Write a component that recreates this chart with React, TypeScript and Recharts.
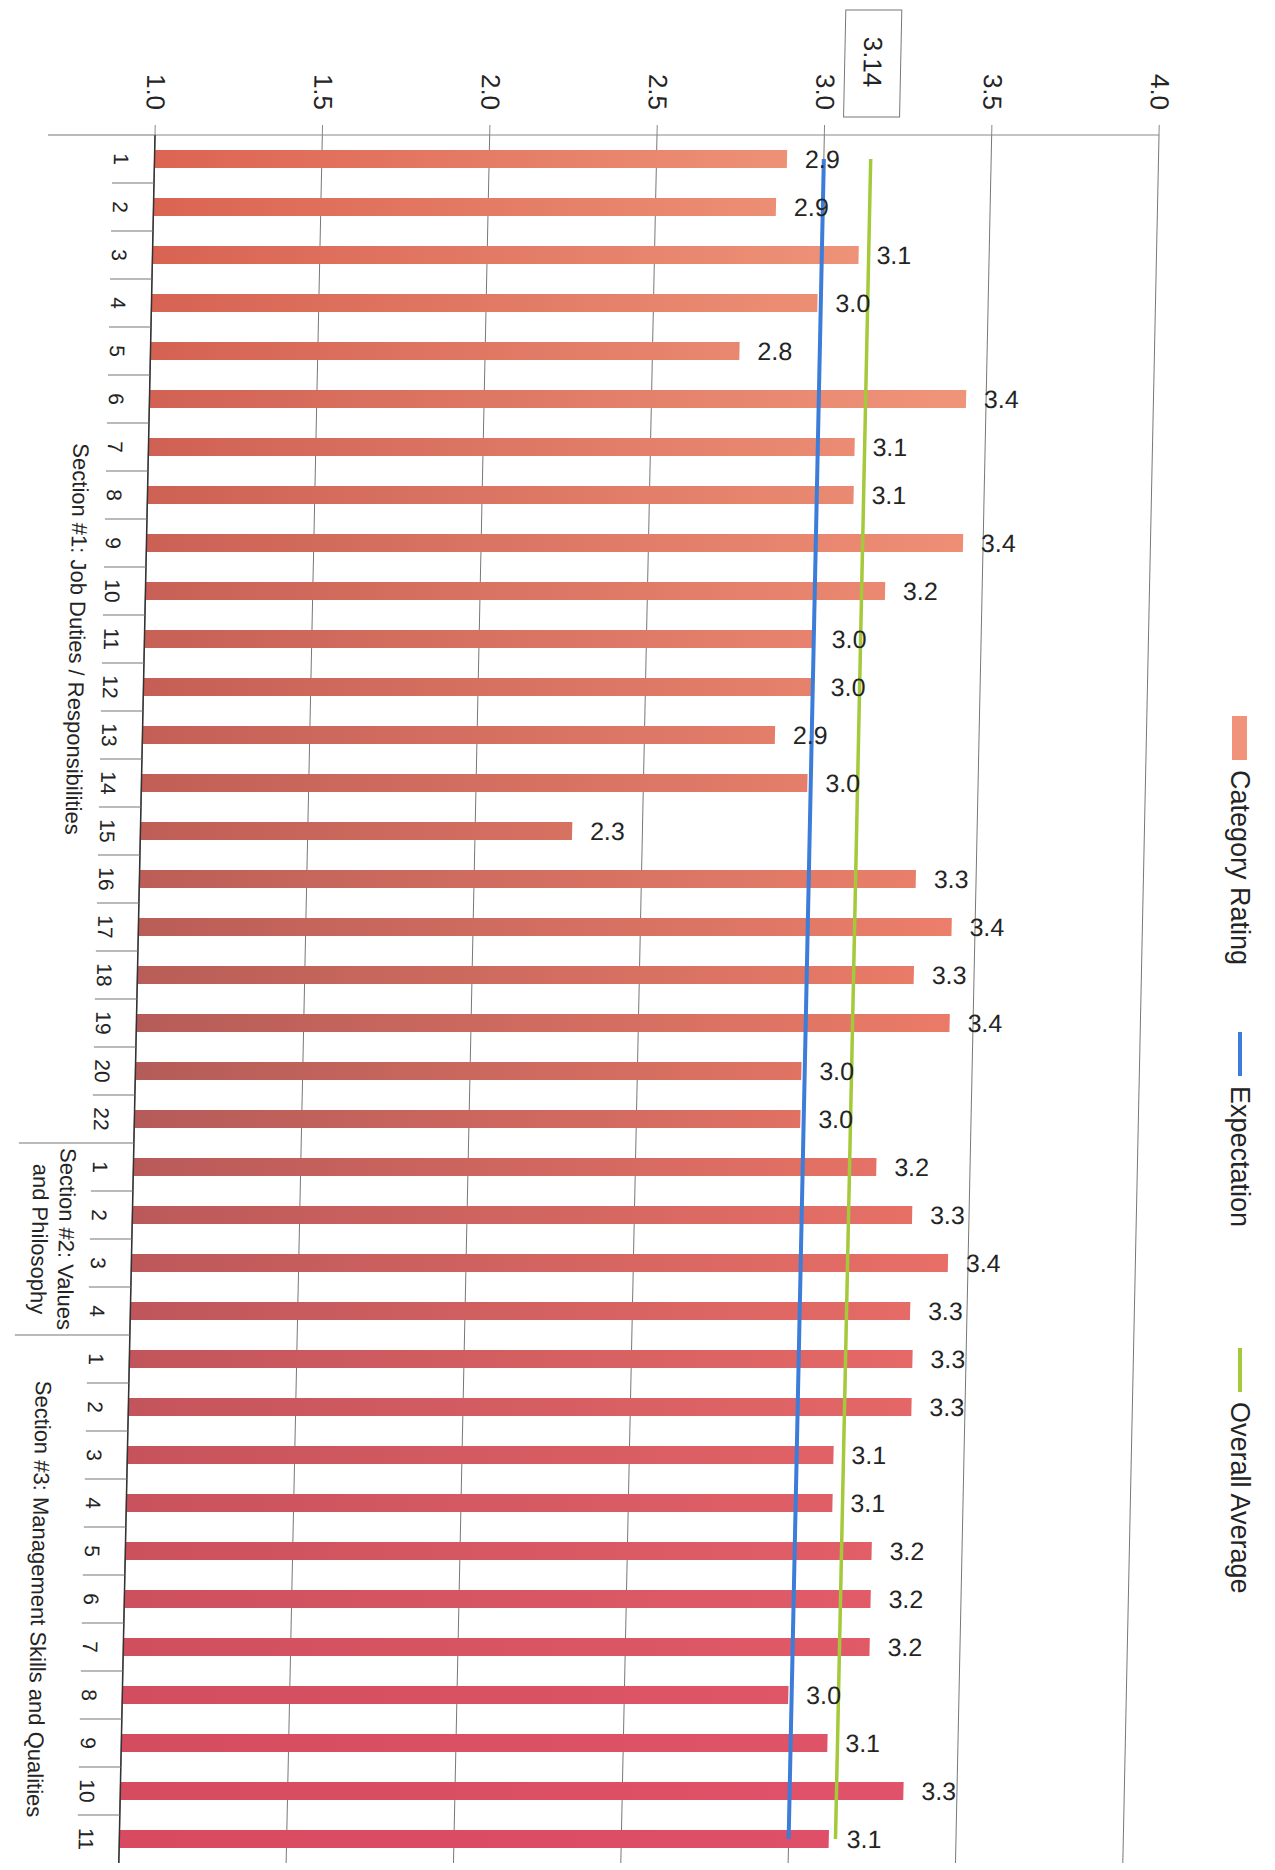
import { BarChart, Bar, Cell, XAxis, YAxis, CartesianGrid, ReferenceLine, LabelList, Legend } from "recharts";

// --- data ---
const section1Items = ["1", "2", "3", "4", "5", "6", "7", "8", "9", "10", "11", "12", "13", "14", "15", "16", "17", "18", "19", "20", "22"];
const section1Ratings = [2.89, 2.86, 3.11, 2.99, 2.76, 3.44, 3.11, 3.11, 3.44, 3.21, 3.0, 3.0, 2.89, 2.99, 2.29, 3.32, 3.43, 3.32, 3.43, 2.99, 2.99];

const section2Items = ["1", "2", "3", "4"];
const section2Ratings = [3.22, 3.33, 3.44, 3.33];

const section3Items = ["1", "2", "3", "4", "5", "6", "7", "8", "9", "10", "11"];
const section3Ratings = [3.34, 3.34, 3.11, 3.11, 3.23, 3.23, 3.23, 2.99, 3.11, 3.34, 3.12];

const sectionTitles = [
    ["Section #1: Job Duties / Responsibilities"],
    ["Section #2: Values", "and Philosophy"],
    ["Section #3: Management Skills and Qualities"],
];

const expectation = 3.0;
const overallAverage = 3.14;
const valueTicks = [1.0, 1.5, 2.0, 2.5, 3.0, 3.5, 4.0];
const legendNames = ["Category Rating", "Expectation", "Overall Average"];

// --- layout / style ---
const W = 1275;
const H = 1870;
const MARGIN = { top: 0, right: 116, bottom: 7, left: 0 };
const X_AXIS_H = 135;
const Y_AXIS_W = 155;
const SKEW_DEG = 1.2; // the scan is slightly sheared
const FONT = "'Liberation Sans', Arial, sans-serif";
const TEXT = "#242424";
const BAR_COLOR = "#f0937a";
const EXP_COLOR = "#3b7dd8";
const AVG_COLOR = "#a4c93a";
const sectionLabelX = [88, 78, 70];
const sectionLineStart = [48, 40, 40];

// scan tint of the bars: [row, left colour, right colour]
const barTint: [number, string, string][] = [
    [0, "#dc6452", "#f3a083"],
    [19, "#b45c58", "#ec7a66"],
    [35, "#d84a60", "#e0506a"],
];

const sections = [
    { items: section1Items, ratings: section1Ratings },
    { items: section2Items, ratings: section2Ratings },
    { items: section3Items, ratings: section3Ratings },
];

const rows = sections.flatMap((s, si) =>
    s.items.map((item, i) => ({
        id: `${si + 1}-${item}`,
        item,
        section: si,
        first: i === 0,
        count: s.items.length,
        rating: s.ratings[i],
    }))
);

const BAND = (H - X_AXIS_H - MARGIN.bottom) / rows.length;

const hex = (c: string) => [1, 3, 5].map((i) => parseInt(c.slice(i, i + 2), 16));
const mix = (a: string, b: string, t: number) => {
    const A = hex(a);
    const B = hex(b);
    return `rgb(${A.map((v, i) => Math.round(v + (B[i] - v) * t)).join(",")})`;
};
const tintAt = (i: number, side: 1 | 2) => {
    let k = 0;
    while (k < barTint.length - 2 && i > barTint[k + 1][0]) k++;
    const [r0] = barTint[k];
    const [r1] = barTint[k + 1];
    const t = Math.min(1, Math.max(0, (i - r0) / (r1 - r0)));
    return mix(barTint[k][side], barTint[k + 1][side], t);
};

const ValueTick = (props: any) => {
    const { x, y, payload } = props;
    const cy = y - 31;
    return (
        <text
            x={x}
            y={cy}
            transform={`rotate(90 ${x} ${cy})`}
            textAnchor="middle"
            dominantBaseline="central"
            fontSize={26}
            fill={TEXT}
        >
            {Number(payload.value).toFixed(1)}
        </text>
    );
};

const CategoryTick = (props: any) => {
    const { y, payload } = props;
    const row = rows.find((r) => r.id === payload.value);
    if (!row) return null;
    const top = y - BAND / 2;
    const numX = 122;
    const title = sectionTitles[row.section];
    const lx = sectionLabelX[row.section];
    const ly = top + (row.count * BAND) / 2;
    return (
        <g>
            <line
                x1={row.first ? sectionLineStart[row.section] : 113}
                x2={Y_AXIS_W}
                y1={top}
                y2={top}
                stroke="#777"
                strokeWidth={1}
            />
            <text
                x={numX}
                y={y}
                transform={`rotate(90 ${numX} ${y})`}
                textAnchor="middle"
                dominantBaseline="central"
                fontSize={21}
                fill={TEXT}
            >
                {row.item}
            </text>
            {row.first && (
                <text
                    x={lx}
                    y={ly}
                    transform={`rotate(90 ${lx} ${ly})`}
                    textAnchor="middle"
                    fontSize={22}
                    fill={TEXT}
                >
                    {title.map((t, i) => (
                        <tspan key={t} x={lx} dy={i === 0 ? (title.length > 1 ? -4 : 8) : 27}>
                            {t}
                        </tspan>
                    ))}
                </text>
            )}
        </g>
    );
};

const AverageBadge = (props: any) => {
    const x = props.viewBox.x;
    const cy = 62;
    return (
        <g>
            <rect x={x - 28} y={10} width={56} height={107} fill="#fff" stroke="#777" strokeWidth={1} />
            <text
                x={x}
                y={cy}
                transform={`rotate(90 ${x} ${cy})`}
                textAnchor="middle"
                dominantBaseline="central"
                fontSize={26}
                fill={TEXT}
            >
                {overallAverage.toFixed(2)}
            </text>
        </g>
    );
};

const LegendBox = () => {
    const colors = [BAR_COLOR, EXP_COLOR, AVG_COLOR];
    const cx = 25;
    return (
        <svg width={50} height={900} style={{ fontFamily: FONT }}>
            {legendNames.map((name, i) => {
                const top = i * 316;
                const ty = top + 54;
                return (
                    <g key={name}>
                        {i === 0 ? (
                            <rect x={cx - 8} y={top} width={15} height={44} fill={colors[i]} />
                        ) : (
                            <line x1={cx} x2={cx} y1={top} y2={top + 44} stroke={colors[i]} strokeWidth={4} />
                        )}
                        <text
                            x={cx}
                            y={ty}
                            transform={`rotate(90 ${cx} ${ty})`}
                            textAnchor="start"
                            dominantBaseline="central"
                            fontSize={27}
                            fill={TEXT}
                        >
                            {name}
                        </text>
                    </g>
                );
            })}
        </svg>
    );
};

const LEGEND_POS = { left: 1215, top: 716 };

const App = () => (
    <div
        style={{
            position: "absolute",
            left: 0,
            top: 0,
            width: W,
            height: H,
            background: "#fff",
            fontFamily: FONT,
            transform: `skewX(${-SKEW_DEG}deg)`,
            transformOrigin: `0px ${X_AXIS_H}px`,
        }}
    >
        <BarChart width={W} height={H} data={rows} layout="vertical" margin={MARGIN} barCategoryGap={0}>
            <defs>
                {rows.map((r, i) => (
                    <linearGradient key={r.id} id={`bar-${i}`} gradientUnits="userSpaceOnUse" x1={Y_AXIS_W} x2={1000} y1={0} y2={0}>
                        <stop offset="0%" stopColor={tintAt(i, 1)} />
                        <stop offset="100%" stopColor={tintAt(i, 2)} />
                    </linearGradient>
                ))}
            </defs>
            <CartesianGrid horizontal={false} stroke="#777" strokeWidth={1} />
            <XAxis
                type="number"
                orientation="top"
                domain={[1, 4]}
                ticks={valueTicks}
                height={X_AXIS_H}
                axisLine={{ stroke: "#888" }}
                tickLine={{ stroke: "#888" }}
                tickSize={10}
                tick={<ValueTick />}
            />
            <YAxis
                type="category"
                dataKey="id"
                width={Y_AXIS_W}
                interval={0}
                axisLine={{ stroke: "#333", strokeWidth: 1.5 }}
                tickLine={false}
                tick={<CategoryTick />}
            />
            <Bar dataKey="rating" fill={BAR_COLOR} barSize={18} isAnimationActive={false}>
                {rows.map((r, i) => (
                    <Cell key={r.id} fill={`url(#bar-${i})`} />
                ))}
                <LabelList
                    dataKey="rating"
                    position="right"
                    offset={18}
                    fontSize={25}
                    fill={TEXT}
                    formatter={(v: any) => Number(v).toFixed(1)}
                />
            </Bar>
            <ReferenceLine
                segment={[
                    { x: expectation, y: rows[0].id },
                    { x: expectation, y: rows[rows.length - 1].id },
                ]}
                stroke={EXP_COLOR}
                strokeWidth={4}
            />
            <ReferenceLine
                segment={[
                    { x: overallAverage, y: rows[0].id },
                    { x: overallAverage, y: rows[rows.length - 1].id },
                ]}
                stroke={AVG_COLOR}
                strokeWidth={3.5}
                label={<AverageBadge />}
            />
            <Legend
                layout="horizontal"
                verticalAlign="middle"
                align="center"
                content={<LegendBox />}
                wrapperStyle={{
                    position: "absolute",
                    left: LEGEND_POS.left,
                    top: LEGEND_POS.top,
                    width: 50,
                    height: 900,
                    transform: `skewX(${SKEW_DEG}deg)`,
                    transformOrigin: `${-LEGEND_POS.left}px ${X_AXIS_H - LEGEND_POS.top}px`,
                }}
            />
        </BarChart>
    </div>
);

export default App;
